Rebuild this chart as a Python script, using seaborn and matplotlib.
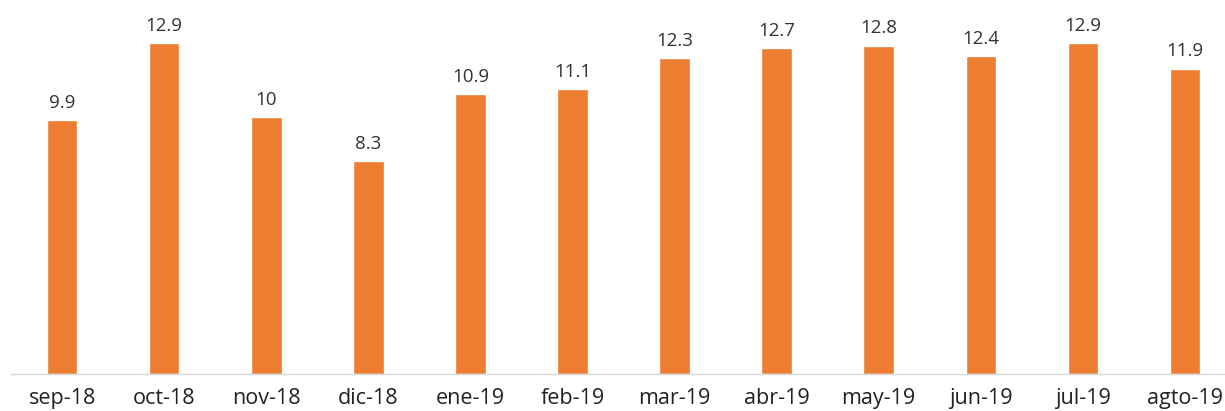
import matplotlib
matplotlib.use('Agg')
import seaborn as sns
import matplotlib.pyplot as plt
import pandas as pd

sns.set_style("white")
plt.rcParams['font.family'] = ['Open Sans', 'DejaVu Sans']

months = ["sep-18", "oct-18", "nov-18", "dic-18", "ene-19", "feb-19",
          "mar-19", "abr-19", "may-19", "jun-19", "jul-19", "agto-19"]
values = [9.9, 12.9, 10, 8.3, 10.9, 11.1, 12.3, 12.7, 12.8, 12.4, 12.9, 11.9]
labels = ["9.9", "12.9", "10", "8.3", "10.9", "11.1", "12.3", "12.7", "12.8", "12.4", "12.9", "11.9"]

data = pd.DataFrame({"Mes": months, "Valor": values})

f = plt.figure(figsize=(12.25, 4.11), dpi=100)
ax = f.add_axes([0.009, 0.09, 1.0, 0.874])

sns.barplot(x="Mes", y="Valor", data=data, color="#ED7D31", width=0.3,
            saturation=1, ax=ax)

for p, lab in zip(ax.patches, labels):
    ax.annotate(lab, (p.get_x() + p.get_width() / 2, p.get_height()),
                xytext=(0, 6), textcoords="offset points",
                ha="center", va="bottom", fontsize=13.5, color="#333333")

ax.set_xlim(-0.5, 11.5)
ax.set_ylim(0, 14)
ax.set_xlabel("")
ax.set_ylabel("")
ax.set_yticks([])
ax.tick_params(axis="x", length=0, pad=10, labelsize=15.5, labelcolor="#222222")
for s in ["top", "right", "left"]:
    ax.spines[s].set_visible(False)
ax.spines["bottom"].set_color("#D9D9D9")
ax.spines["bottom"].set_linewidth(1)

plt.savefig("out.png", dpi=100)
